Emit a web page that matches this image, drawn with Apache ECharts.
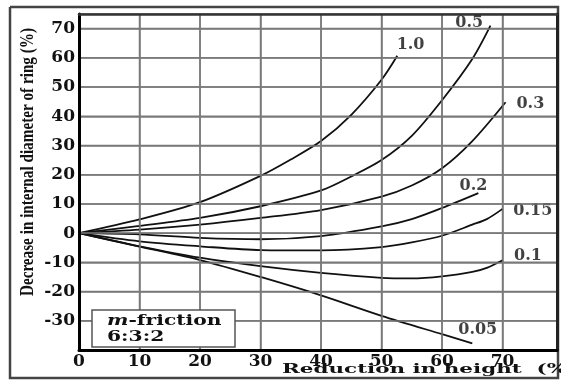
<!DOCTYPE html>
<html><head><meta charset="utf-8">
<script src="https://cdn.jsdelivr.net/npm/echarts@6/dist/echarts.min.js"></script>
<style>html,body{margin:0;padding:0;background:#fff}#c{width:561px;height:383px;background:#fff}</style>
</head><body><div id="c"></div>
<script>
// Reduction in height (%) vs decrease in internal diameter (%), per friction factor m
const c_1_0  = [[0,0],[10,4.7],[20,10.6],[30,19.6],[35,25.2],[40,31.5],[45,40.5],[50,52.5],[52.6,60.7]];
const c_0_5  = [[0,0],[10,2.5],[20,5.2],[30,9.2],[40,14.6],[45,19.4],[50,25],[55,33.3],[60,45.5],[65,59.6],[68,71]];
const c_0_3  = [[0,0],[10,1.2],[20,2.9],[30,5.2],[40,7.9],[50,12.5],[55,16.3],[60,22.2],[65,31.5],[70.5,44.8]];
const c_0_2  = [[0,0],[10,-0.4],[20,-1.6],[30,-2.1],[40,-1.0],[50,2.3],[55,4.8],[60,8.6],[66,13.7]];
const c_0_15 = [[0,0],[10,-2.8],[20,-4.5],[30,-5.8],[40,-5.9],[50,-4.8],[55,-3.2],[60,-0.9],[65,2.9],[67.4,4.8],[70,8.3]];
const c_0_1  = [[0,0],[10,-4.5],[20,-8.4],[30,-11.3],[40,-13.6],[50,-15.3],[55,-15.5],[60,-14.8],[65,-13.3],[67.5,-11.8],[70,-9.3]];
const c_0_05 = [[0,0],[10,-4.6],[20,-9.2],[30,-15],[40,-21.3],[50,-28.3],[60,-34.6],[65,-37.7]];

const curveNames = ['1.0','0.5','0.3','0.2','0.15','0.1','0.05'];
const curves = [c_1_0, c_0_5, c_0_3, c_0_2, c_0_15, c_0_1, c_0_05];
// label anchor points (data coords)
const labelX = [54.8, 64.5, 74.6, 65.2, 75.0, 74.2, 65.9];
const labelY = [64.5, 71.9, 44.4, 16.2, 7.7, -7.7, -33.2];

const xTickLabels = [0,10,20,30,40,50,60,70];
const yTickLabels = [-30,-20,-10,0,10,20,30,40,50,60,70];
const xRange = [0, 79];
const yRange = [-40, 75];

const xTitle = 'Reduction in height  (%';
const yTitle = 'Decrease in internal diameter of ring (%)';
const boxLine1 = 'm';
const boxLine1b = '-friction';
const boxLine2 = '6:3:2';

const chart = echarts.init(document.getElementById('c'));
const serif = 'DejaVu Serif';
const gridColor = '#7a7a7a';

const series = [];
// grid lines at the tick values, drawn through the axes' own scales
const gridSeg = d => ({type:'line', data:d, showSymbol:false, symbol:'none', z:3, silent:true,
  clip:false, lineStyle:{color:gridColor, width:1.5, type:'solid', opacity:1}});
xTickLabels.filter(v=>v>xRange[0]).forEach(v=>series.push(gridSeg([[v,yRange[0]],[v,yRange[1]]])));
yTickLabels.forEach(v=>series.push(gridSeg([[xRange[0],v],[xRange[1],v]])));

curves.forEach((d,i)=>series.push({
  name: curveNames[i], type:'line', data:d, smooth:0.3, showSymbol:false, symbol:'none',
  lineStyle:{color:'#111', width:1.8}, z:4, silent:true
}));
series.push({
  type:'scatter', symbolSize:0, z:5, silent:true,
  data: curveNames.map((n,i)=>[labelX[i], labelY[i], n]),
  label:{show:true, position:'inside', formatter:p=>p.data[2],
    color:'#111', fontFamily:serif, fontWeight:'bold', fontSize:16}
});

const frameAxis = (extra)=>Object.assign({type:'value', axisTick:{show:false}, axisLabel:{show:false}, splitLine:{show:false}}, extra);

chart.setOption({
  animation:false,
  grid:{left:79, right:4, top:14, bottom:33},
  xAxis:[{type:'value', min:xRange[0], max:xRange[1], interval:10, position:'bottom', z:6,
    axisLine:{show:true, onZero:false, lineStyle:{color:'#000', width:3}},
    axisTick:{show:false},
    splitLine:{show:true, lineStyle:{color:gridColor, width:1.5}},
    axisLabel:{margin:3, color:'#111', fontFamily:serif, fontWeight:'bold', fontSize:17,
      formatter:v=> xTickLabels.includes(v) ? String(v) : ''}
  }, frameAxis({min:xRange[0], max:xRange[1], position:'top', z:6, axisLine:{show:true, onZero:false, lineStyle:{color:'#333', width:2.5}}})],
  yAxis:[{type:'value', min:yRange[0], max:yRange[1], interval:10, position:'left', z:6,
    axisLine:{show:true, onZero:false, lineStyle:{color:'#000', width:3}},
    axisTick:{show:false},
    splitLine:{show:true, lineStyle:{color:gridColor, width:1.5}},
    axisLabel:{margin:4, color:'#111', fontFamily:serif, fontWeight:'bold', fontSize:17,
      formatter:v=> yTickLabels.includes(v) ? String(v) : ''}
  }, frameAxis({min:yRange[0], max:yRange[1], position:'right', z:6, axisLine:{show:true, onZero:false, lineStyle:{color:'#222', width:3}}})],
  graphic:[
    {type:'polyline', z:6, silent:true, shape:{points:[[10,7],[558,7],[558,378],[10,378],[10,7]]},
      style:{fill:'rgba(0,0,0,0)', stroke:'#444', lineWidth:2.5}},
    {type:'text', z:10, x:28, y:162, rotation:Math.PI/2, scaleX:0.8,
      style:{text:yTitle, fontFamily:'Liberation Serif', fontWeight:'bold', fontSize:19,
        fill:'#111', align:'center', verticalAlign:'middle'}},
    {type:'text', z:10, x:282, y:370, scaleX:1.65,
      style:{text:xTitle, fontFamily:serif, fontWeight:'bold', fontSize:13,
        fill:'#111', align:'left', verticalAlign:'middle'}},
    {type:'rect', z:20, shape:{x:92,y:310,width:143,height:37},
      style:{fill:'#fff', stroke:'#555', lineWidth:1.5}},
    {type:'text', z:21, x:107, y:329, scaleX:1.35,
      style:{text:'{m|'+boxLine1+'}{b|'+boxLine1b+'}\n{b|'+boxLine2+'}', fill:'#111',
        fontFamily:serif, fontWeight:'bold', fontSize:15, align:'left', verticalAlign:'middle',
        rich:{m:{fontFamily:serif, fontStyle:'italic', fontWeight:'bold', fontSize:15, fill:'#111', lineHeight:16},
              b:{fontFamily:serif, fontWeight:'bold', fontSize:15, fill:'#111', lineHeight:16}}}}
  ],
  series: series
});
</script></body></html>
